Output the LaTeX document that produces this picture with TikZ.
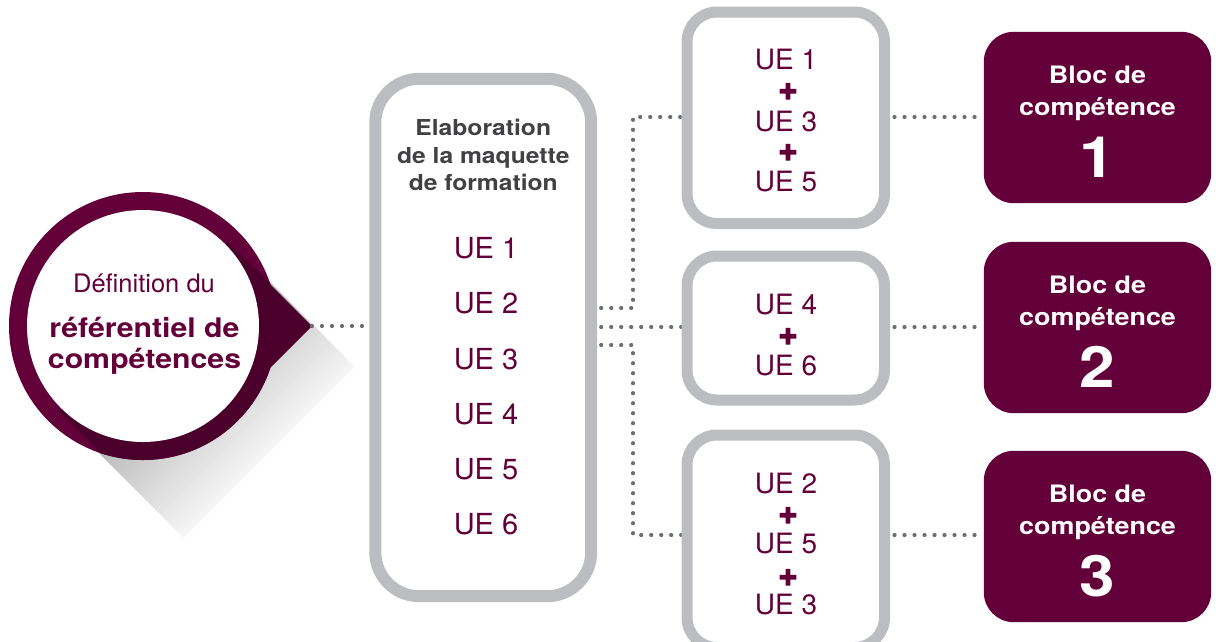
\documentclass[tikz,border=0pt]{standalone}
\usepackage{fontspec}
\setmainfont{TeX Gyre Heros}
\newfontfamily\bw{TeX Gyre Heros}[FakeStretch=1.12]
\newfontfamily\heavy{TeX Gyre Heros}[FakeBold=4]
\usetikzlibrary{calc}
\definecolor{prp}{RGB}{99,0,58}
\definecolor{ringdark}{RGB}{74,0,42}
\definecolor{boxgray}{RGB}{188,189,192}
\definecolor{dotgray}{RGB}{109,110,112}
\definecolor{headgray}{RGB}{65,64,66}
\begin{document}
\begin{tikzpicture}[x=1pt,y=-1pt,
  graybox/.style={draw=boxgray, fill=white, line width=11pt, rounded corners=30pt, inner sep=0pt, minimum width=186.5pt},
  blocbox/.style={fill=prp, rounded corners=30pt, inner sep=0pt, minimum width=227pt, minimum height=171pt},
  dots/.style={draw=dotgray, line width=4.2pt, line cap=round, dash pattern=on 0pt off 10pt},
  uem/.style={text=prp, anchor=base, inner sep=0pt, font=\fontsize{29}{30}\selectfont},
  ueb/.style={text=prp, anchor=base, inner sep=0pt, font=\fontsize{28}{30}\selectfont},
  plus/.style={text=prp, anchor=center, inner sep=0pt, text height=17pt, text depth=-3pt, font=\heavy\bfseries\fontsize{33}{34}\selectfont},
  head/.style={text=headgray, anchor=base, inner sep=0pt, font=\bw\bfseries\fontsize{22}{23}\selectfont},
  bloct/.style={text=white, anchor=base, inner sep=0pt, font=\bw\bfseries\fontsize{24}{26}\selectfont},
  blocn/.style={text=white, anchor=base, inner sep=0pt, font=\bw\bfseries\fontsize{57}{60}\selectfont}
]
\useasboundingbox (0,0) rectangle (1216,641);

% long shadow, built from thin strips (gray near the circle, fading to white)
\foreach \a in {0,2,...,176} {
  \pgfmathsetmacro\g{max(0,38-22*\a/113)}
  \pgfmathsetmacro\b{\a+2.6}
  \fill[black!\g]
    ({143+(\a+121)*0.70711},{326+(\a-121)*0.70711}) --
    ({143+(\b+121)*0.70711},{326+(\b-121)*0.70711}) --
    ({143+(\b-121)*0.70711},{326+(\b+121)*0.70711}) --
    ({143+(\a-121)*0.70711},{326+(\a+121)*0.70711}) -- cycle;
}
% ring
\fill[prp] (143,326) circle[radius=134];
\begin{scope}
  \clip (227.85,241.15) -- (369.3,382.6) -- (199.6,552.3) -- (58.15,410.85) -- cycle;
  \fill[ringdark] (143,326) circle[radius=134];
\end{scope}
\coordinate (tip) at (312,326);
\fill[ringdark] (tip) -- (270,284) -- (230,326) -- (270,368) -- cycle;
\fill[white] (143,326) circle[radius=116];

% circle text
\node[text=prp, anchor=base, inner sep=0pt, font=\fontsize{25.5}{26}\selectfont] (d1) at (144,292) {Définition du};
\node[text=prp, anchor=base, inner sep=0pt, font=\bw\bfseries\fontsize{27}{28}\selectfont] (d2) at (144.5,337) {référentiel de};
\node[text=prp, anchor=base, inner sep=0pt, font=\bw\bfseries\fontsize{27}{28}\selectfont] (d3) at (144.5,368) {compétences};

% node positions
\coordinate (c1) at (640,117);
\coordinate (c2) at (640,327);
\coordinate (c3) at (640,535);
\coordinate (j1) at (633,308);
\coordinate (j2) at (633,345);
\path (483.25,337.5) node[draw=none, fill=none, inner sep=0pt, minimum width=215.5pt, minimum height=517pt] (main) {};
\path (785.75,117.75) node[graybox, draw=none, fill=none, minimum height=200.5pt] (b1) {};
\path (785.75,328) node[graybox, draw=none, fill=none, minimum height=133pt] (b2) {};
\path (785.75,541.25) node[graybox, draw=none, fill=none, minimum height=201.5pt] (b3) {};
\path (1097.5,117.5) node[blocbox, fill=none] (k1) {};
\path (1097.5,327.5) node[blocbox, fill=none] (k2) {};
\path (1097.5,536.5) node[blocbox, fill=none] (k3) {};

% connectors
\draw[dots] (tip) -- (main.west |- tip);
\draw[dots] (main.east |- j1) -- (j1) -- (j1 |- c1) -- (b1.west |- c1);
\draw[dots] (main.east |- c2) -- (b2.west |- c2);
\draw[dots] (main.east |- j2) -- (j2) -- (j2 |- c3) -- (b3.west |- c3);
\draw[dots] (b1.east |- c1) -- (k1.west |- c1);
\draw[dots] (b2.east |- c2) -- (k2.west |- c2);
\draw[dots] (b3.east |- c3) -- (k3.west |- c3);

% boxes drawn over connector ends
\draw[boxgray, line width=12pt, rounded corners=44pt] (main.north west) rectangle (main.south east);
\draw[boxgray, line width=11pt, rounded corners=30pt] (b1.north west) rectangle (b1.south east);
\draw[boxgray, line width=11pt, rounded corners=30pt] (b2.north west) rectangle (b2.south east);
\draw[boxgray, line width=11pt, rounded corners=30pt] (b3.north west) rectangle (b3.south east);
\fill[prp, rounded corners=30pt] (k1.north west) rectangle (k1.south east);
\fill[prp, rounded corners=30pt] (k2.north west) rectangle (k2.south east);
\fill[prp, rounded corners=30pt] (k3.north west) rectangle (k3.south east);

% main box text
\node[head] (h1) at (483.25,135) {Elaboration};
\node[head] (h2) at (483.25,163) {de la maquette};
\node[head] (h3) at (483.25,190) {de formation};
\foreach \i/\t in {0/1,1/2,2/3,3/4,4/5,5/6}
  \node[uem] (m\t) at (486,258.4+55.3*\i) {UE \t};

% middle boxes text
\node[ueb] (a1) at (786,69) {UE 1};
\node[plus] (p1) at (788,91) {+};
\node[ueb] (a3) at (786,131.5) {UE 3};
\node[plus] (p2) at (788,152) {+};
\node[ueb] (a5) at (786,191) {UE 5};

\node[ueb] (e4) at (786,314) {UE 4};
\node[plus] (p3) at (788,336) {+};
\node[ueb] (e6) at (786,375) {UE 6};

\node[ueb] (f2) at (786,493.5) {UE 2};
\node[plus] (p4) at (788,515) {+};
\node[ueb] (f5) at (786,553) {UE 5};
\node[plus] (p5) at (788,577) {+};
\node[ueb] (f3) at (786,614) {UE 3};

% bloc text
\foreach \n/\top in {1/32,2/242,3/451} {
  \node[bloct] at (1097.5,\top+51) {Bloc de};
  \node[bloct] at (1097.5,\top+83) {compétence};
  \node[blocn] at (1097.5,\top+145) {\n};
}
\end{tikzpicture}
\end{document}
